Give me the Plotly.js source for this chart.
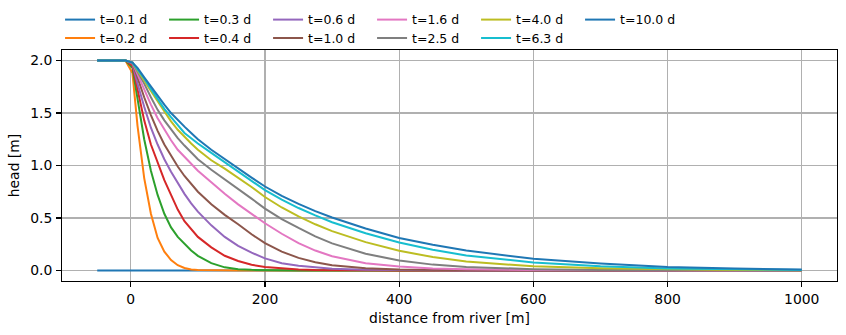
<!DOCTYPE html>
<html><head><meta charset="utf-8">
<script src="https://cdn.plot.ly/plotly-3.0.1.min.js"></script>
<style>html,body{margin:0;padding:0;background:#fff}#chart{width:846px;height:335px}</style>
</head><body><div id="chart"></div>
<script>
// distance from river [m]
const distance = [-50, -8, 2.5, 10, 20, 30, 40, 50, 60, 70, 80, 90, 100, 120, 140, 160, 180, 200, 225, 250, 275, 300, 350, 400, 450, 500, 600, 700, 800, 900, 1000];
// head [m] per time
const h_t01 = [0,0,0,0,0,0,0,0,0,0,0,0,0,0,0,0,0,0,0,0,0,0,0,0,0,0,0,0,0,0,0];
const h_t02 = [2,2,1.88,1.38,0.88,0.54,0.31,0.18,0.10,0.05,0.024,0.01,0.004,0.001,0,0,0,0,0,0,0,0,0,0,0,0,0,0,0,0,0];
const h_t03 = [2,2,1.93,1.63,1.25,0.95,0.72,0.54,0.41,0.32,0.25,0.19,0.14,0.07,0.03,0.013,0.006,0.003,0.001,0.0005,0,0,0,0,0,0,0,0,0,0,0];
const h_t04 = [2,2,1.95,1.72,1.43,1.2,1.02,0.86,0.72,0.58,0.47,0.39,0.32,0.22,0.14,0.09,0.055,0.033,0.018,0.01,0.005,0.003,0.001,0,0,0,0,0,0,0,0];
const h_t06 = [2,2,1.97,1.78,1.56,1.36,1.2,1.06,0.94,0.83,0.73,0.64,0.56,0.43,0.32,0.235,0.17,0.115,0.07,0.045,0.027,0.016,0.006,0.002,0.001,0,0,0,0,0,0];
const h_t10 = [2,2,1.98,1.83,1.65,1.48,1.33,1.2,1.09,0.99,0.9,0.82,0.75,0.63,0.53,0.44,0.345,0.26,0.18,0.12,0.078,0.05,0.022,0.01,0.004,0.002,0,0,0,0,0];
const h_t16 = [2,2,1.98,1.87,1.72,1.58,1.45,1.34,1.24,1.15,1.08,1.01,0.95,0.84,0.73,0.63,0.54,0.45,0.35,0.26,0.19,0.135,0.07,0.037,0.02,0.012,0.004,0.001,0,0,0];
const h_t25 = [2,2,1.98,1.9,1.78,1.65,1.53,1.43,1.34,1.26,1.19,1.12,1.06,0.96,0.87,0.78,0.685,0.59,0.49,0.405,0.325,0.258,0.16,0.095,0.056,0.033,0.013,0.005,0.002,0.001,0];
const h_t40 = [2,2,1.98,1.91,1.81,1.71,1.61,1.51,1.42,1.34,1.27,1.21,1.15,1.05,0.97,0.885,0.795,0.70,0.60,0.515,0.44,0.375,0.27,0.188,0.128,0.085,0.04,0.021,0.011,0.005,0.002];
const h_t63 = [2,2,1.98,1.92,1.83,1.73,1.63,1.54,1.46,1.38,1.31,1.26,1.21,1.12,1.03,0.94,0.85,0.765,0.675,0.595,0.525,0.46,0.355,0.267,0.197,0.143,0.077,0.04,0.02,0.01,0.005];
const h_t100 = [2,2,1.98,1.93,1.84,1.75,1.66,1.58,1.5,1.43,1.37,1.31,1.25,1.15,1.06,0.97,0.885,0.80,0.71,0.635,0.565,0.505,0.40,0.31,0.245,0.19,0.112,0.066,0.034,0.018,0.01];

const labels = ['t=0.1 d','t=0.2 d','t=0.3 d','t=0.4 d','t=0.6 d','t=1.0 d','t=1.6 d','t=2.5 d','t=4.0 d','t=6.3 d','t=10.0 d'];
const xTicks = [0, 200, 400, 600, 800, 1000];
const xTickText = ['0','200','400','600','800','1000'];
const yTicks = [0, 0.5, 1, 1.5, 2];
const yTickText = ['0.0','0.5','1.0','1.5','2.0'];

const series = [h_t01,h_t02,h_t03,h_t04,h_t06,h_t10,h_t16,h_t25,h_t40,h_t63,h_t100];
const colors = ['#1f77b4','#ff7f0e','#2ca02c','#d62728','#9467bd','#8c564b','#e377c2','#7f7f7f','#bcbd22','#17becf','#1f77b4'];

const traces = series.map((y, i) => ({
  type: 'scatter', mode: 'lines', x: distance, y: y, name: labels[i],
  line: {color: colors[i], width: 2.0},
  legend: (i % 2 === 0) ? 'legend' : 'legend2',
  hoverinfo: 'skip'
}));

const FONT = 'DejaVu Sans';
const FS = 13.9;
const axisCommon = {
  showgrid: true, gridcolor: '#b0b0b0', gridwidth: 1.1,
  zeroline: false, showline: true, mirror: true, linecolor: '#000', linewidth: 1.1,
  ticks: 'outside', ticklen: 4.9, tickwidth: 1.1, tickcolor: '#000',
  tickfont: {family: FONT, size: FS, color: '#000'}, automargin: false
};
const legendCommon = {
  orientation: 'h', xanchor: 'left', yanchor: 'middle', x: -0.0025,
  entrywidth: 59, entrywidthmode: 'pixels', itemwidth: 30,
  bgcolor: 'rgba(0,0,0,0)', borderwidth: 0,
  font: {family: FONT, size: 12.5, color: '#000'}
};

const layout = {
  width: 846, height: 335,
  margin: {l: 62, r: 9, t: 50, b: 54, pad: 0, autoexpand: false},
  paper_bgcolor: '#fff', plot_bgcolor: '#fff',
  font: {family: FONT, size: FS, color: '#000'},
  showlegend: true,
  xaxis: Object.assign({}, axisCommon, {
    range: [-102.5, 1052.5], tickvals: xTicks, ticktext: xTickText,
    title: {text: 'distance from river [m]', font: {family: FONT, size: FS, color: '#000'}, standoff: 7}
  }),
  yaxis: Object.assign({}, axisCommon, {
    range: [-0.1, 2.1], tickvals: yTicks, ticktext: yTickText, ticklabelstandoff: 1,
    title: {text: 'head [m]', font: {family: FONT, size: FS, color: '#000'}, standoff: 7}
  }),
  legend: Object.assign({}, legendCommon, {y: 1.130}),
  legend2: Object.assign({}, legendCommon, {y: 1.050})
};

Plotly.newPlot('chart', traces, layout, {displayModeBar: false, staticPlot: true});
</script>
</body></html>
